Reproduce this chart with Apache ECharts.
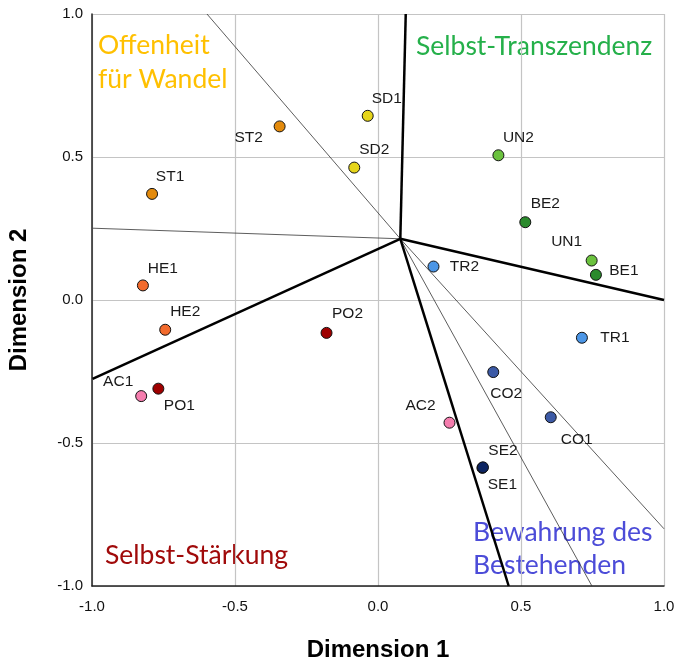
<!DOCTYPE html>
<html><head><meta charset="utf-8">
<script src="https://cdn.jsdelivr.net/npm/echarts@6/dist/echarts.min.js"></script>
<style>html,body{margin:0;padding:0;background:#fff}#c{width:677px;height:660px}</style>
</head><body><div id="c"></div>
<script>
// ---- data ----
const codes = ['ST1','ST2','HE1','HE2','PO1','PO2','AC1','AC2','SD1','SD2','UN1','UN2','BE1','BE2','TR1','TR2','CO1','CO2','SE1','SE2'];
const dim1  = [-0.790,-0.344,-0.822,-0.744,-0.768,-0.180,-0.828,0.250,-0.036,-0.083,0.747,0.421,0.762,0.515,0.713,0.194,0.604,0.403,0.365,0.367];
const dim2  = [0.371,0.607,0.051,-0.104,-0.310,-0.115,-0.336,-0.429,0.644,0.463,0.138,0.506,0.088,0.272,-0.132,0.117,-0.410,-0.252,-0.587,-0.585];
const vectorOrigin = [0.078, 0.214];
const thickEnds = [[0.097, 1.0], [1.0, 0.0], [0.457, -1.0], [-0.998, -0.276]];
const thinEnds  = [[-0.598, 1.0], [-0.997, 0.251], [1.0, -0.80], [0.748, -1.0]];

// ---- styles ----
const groupColor = {ST:'#E38A0C', HE:'#F26A2C', PO:'#9E0000', AC:'#F57DAE', SD:'#E6D51A',
  UN:'#6BC23E', BE:'#2A8A2C', TR:'#4C96E6', CO:'#3C5AA6', SE:'#0C2462'};
const labelOffset = {ST1:[18,-17],ST2:[-31,11],HE1:[20,-17],HE2:[20,-18],PO1:[21,17],PO2:[21,-19],
  AC1:[-23,-14],AC2:[-29,-17],SD1:[19,-17],SD2:[20,-18],UN1:[-25,-19],UN2:[20,-18],BE1:[28,-4],
  BE2:[20,-18],TR1:[33,0],TR2:[31,0],CO1:[26,22],CO2:[13,22],SE1:[20,17],SE2:[20,-17]};

const pts = codes.map((c,i)=>({
  value:[dim1[i], dim2[i]],
  name:c,
  itemStyle:{color:groupColor[c.slice(0,2)]},
  label:{show:true, formatter:c, position:'inside', offset:labelOffset[c],
    color:'#1a1a1a', fontSize:15.5, fontFamily:'Liberation Sans'}
}));

const lineSeries = [];
thickEnds.forEach(e=>lineSeries.push({type:'line', data:[vectorOrigin, e], symbol:'none',
  lineStyle:{color:'#000', width:2.5}, silent:true, z:3, animation:false}));
thinEnds.forEach(e=>lineSeries.push({type:'line', data:[vectorOrigin, e], symbol:'none',
  lineStyle:{color:'#333', width:0.8}, silent:true, z:2, animation:false}));

const chart = echarts.init(document.getElementById('c'), null, {renderer:'canvas'});
const axisCommon = {
  type:'value', min:-1, max:1, interval:0.5,
  axisLine:{show:true, onZero:false, lineStyle:{color:'#222', width:1.5}},
  axisTick:{show:false},
  splitLine:{show:true, lineStyle:{color:'#C4C4C4', width:1.2}},
  axisLabel:{color:'#111', fontSize:15, fontFamily:'Liberation Sans', formatter:v=>v.toFixed(1)},
  nameLocation:'middle',
  nameTextStyle:{color:'#000', fontSize:24, fontWeight:'bold', fontFamily:'Liberation Sans'}
};
chart.setOption({
  animation:false,
  grid:{left:92, right:13, top:14, bottom:74, containLabel:false, outerBoundsMode:'none'},
  xAxis:Object.assign({}, axisCommon, {name:'Dimension 1', nameGap:52,
    axisLabel:Object.assign({}, axisCommon.axisLabel, {margin:13})}),
  yAxis:Object.assign({}, axisCommon, {name:'Dimension 2', nameGap:61,
    axisLabel:Object.assign({}, axisCommon.axisLabel, {margin:9})}),
  graphic:[
    {type:'text', left:98, top:28, style:{text:'Offenheit\nfür Wandel', fill:'#FFC000', font:'26.5px Lato', lineHeight:34}},
    {type:'text', left:416, top:33, style:{text:'Selbst-Transzendenz', fill:'#25B04A', font:'26.5px Lato'}},
    {type:'text', left:473, top:516, style:{text:'Bewahrung des\nBestehenden', fill:'#4C4CD8', font:'26.5px Lato', lineHeight:33}},
    {type:'text', left:105, top:542, style:{text:'Selbst-Stärkung', fill:'#A00A0A', font:'26.5px Lato'}}
  ],
  series: lineSeries.concat([{
    type:'scatter', data:pts, symbolSize:11, z:5,
    itemStyle:{borderColor:'#111', borderWidth:1, opacity:1}
  }])
});
</script></body></html>
